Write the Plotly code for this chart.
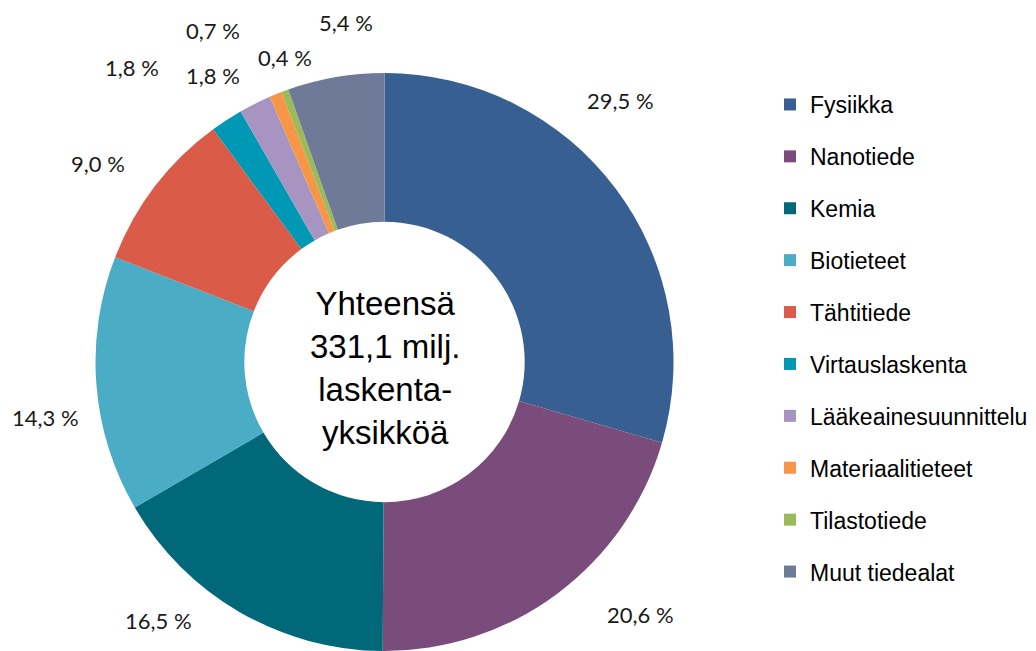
import plotly.graph_objects as go

W, H = 1036, 651

categories = ["Fysiikka", "Nanotiede", "Kemia", "Biotieteet", "Tähtitiede",
              "Virtauslaskenta", "Lääkeainesuunnittelu", "Materiaalitieteet",
              "Tilastotiede", "Muut tiedealat"]
shares = [29.5, 20.6, 16.5, 14.3, 9.0, 1.8, 1.8, 0.7, 0.4, 5.4]
center_text = "Yhteensä<br>331,1 milj.<br>laskenta-<br>yksikköä"

colors = ["#385F92", "#7A4C7B", "#006878", "#4BACC6", "#DA5C48",
          "#0098B5", "#A894C0", "#F79646", "#9BBB59", "#6E7A98"]

# label positions in pixels (x from left, y from top)
label_pos = [(620, 100), (640, 614), (158, 620), (45, 417), (98, 163),
             (132, 68), (213, 76), (213, 30), (285, 58), (346, 22)]

cx, cy, R = 384.5, 364.0, 289.0

fig = go.Figure()
fig.add_trace(go.Pie(
    labels=categories, values=shares, sort=False, direction="clockwise",
    rotation=0, hole=0.485, textinfo="none", showlegend=False,
    marker=dict(colors=colors, line=dict(width=0)),
    domain=dict(x=[(cx - R) / W, (cx + R) / W], y=[0, (2 * R) / H]),
    hoverinfo="label+percent",
))

for name, col in zip(categories, colors):
    fig.add_trace(go.Scatter(
        x=[None], y=[None], mode="markers", name=name, legendgroup=name,
        marker=dict(symbol="square", size=12, color=col),
        showlegend=True, hoverinfo="skip",
    ))

annotations = []
for v, (px, py) in zip(shares, label_pos):
    annotations.append(dict(
        x=px / W, y=1 - py / H, xref="paper", yref="paper",
        text=f"{v:.1f} %".replace(".", ","), showarrow=False,
        xanchor="center", yanchor="middle",
        font=dict(family="Lato", size=22, color="#1a1a1a"),
    ))
pie_cy = (2 * R) / H / 2
annotations.append(dict(
    x=cx / W, y=pie_cy - 6 / H, xref="paper", yref="paper", text=center_text,
    showarrow=False, xanchor="center", yanchor="middle",
    font=dict(family="Liberation Sans, Arial", size=33, color="#000000"),
))

fig.update_layout(
    width=W, height=H, margin=dict(l=0, r=0, t=0, b=0),
    paper_bgcolor="white", plot_bgcolor="white",
    xaxis=dict(visible=False), yaxis=dict(visible=False),
    annotations=annotations,
    legend=dict(
        x=770 / W, y=1 - 83 / H, xanchor="left", yanchor="top",
        traceorder="grouped", tracegroupgap=19, itemwidth=30,
        font=dict(family="Liberation Sans, Arial", size=23, color="#000000"),
        bgcolor="rgba(0,0,0,0)",
    ),
)

fig.write_html("out.html")
